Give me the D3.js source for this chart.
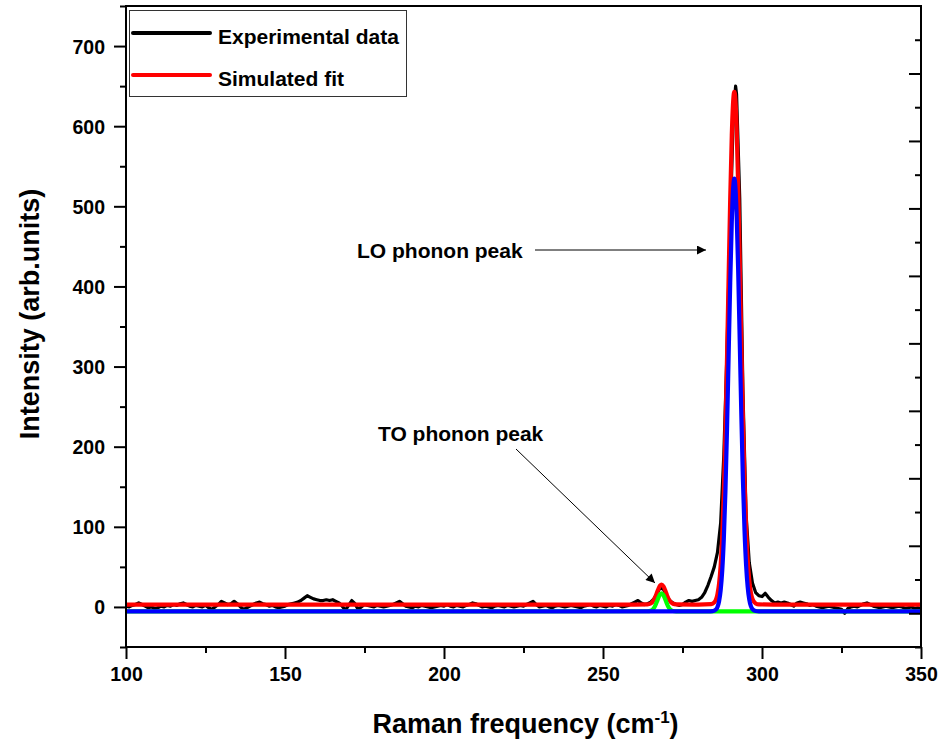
<!DOCTYPE html>
<html><head><meta charset="utf-8">
<script src="https://cdn.jsdelivr.net/npm/d3@7"></script>
<style>
html,body{margin:0;padding:0;background:#fff;}
text{font-family:"Liberation Sans",Arial,Helvetica,sans-serif;font-weight:bold;}
</style></head>
<body><svg id="c" width="941" height="746"></svg>
<script>
// ---- data ----
const expX = [100,101,102,103,104,105,106,107,108,109,110,111,112,113,114,115,116,117,118,119,
120,121,122,123,124,125,126,127,128,129,130,131,132,133,134,135,136,137,138,139,
140,141,142,143,144,145,146,147,148,149,150,151,152,153,154,155,156,157,158,159,
160,161,162,163,164,165,166,167,168,169,170,171,172,173,174,175,176,177,178,179,
180,181,182,183,184,185,186,187,188,189,190,191,192,193,194,195,196,197,198,199,
200,201,202,203,204,205,206,207,208,209,210,211,212,213,214,215,216,217,218,219,
220,221,222,223,224,225,226,227,228,229,230,231,232,233,234,235,236,237,238,239,
240,241,242,243,244,245,246,247,248,249,250,251,252,253,254,255,256,257,258,259,
260,261,262,263,264,265,266,267,268,269,270,271,272,273,274,275,276,277,278,279,
280,281,282,283,284,285,286,287,288,289,290,291,291.7,292,293,294,295,296,297,298,299,
300,301,302,303,304,305,306,307,308,309,310,311,312,313,314,315,316,317,318,319,
320,321,322,323,324,325,326,327,328,329,330,331,332,333,334,335,336,337,338,339,
340,341,342,343,344,345,346,347,348,349,350];
const expY = [1,0,2,3,5,3,1,-1,0,-2,-1,1,0,2,1,3,2,4,5,3,
1,0,2,1,0,2,-1,-3,0,3,7,5,3,4,7,4,0,-3,-1,1,
3,5,6,4,3,1,2,0,-1,0,1,3,4,5,6,8,11,14,12,10,
9,8,8,9,8,9,7,5,1,-4,2,8,4,-3,0,3,2,1,0,2,
1,0,1,2,3,5,7,4,1,0,-1,1,0,2,1,0,-1,0,1,2,
1,3,1,0,2,1,0,2,3,5,4,2,0,1,0,-1,1,2,1,0,
2,1,0,1,2,1,3,5,7,3,0,1,2,0,-1,1,2,1,0,1,
2,1,0,-1,1,2,3,1,0,2,1,0,2,1,3,2,0,1,2,4,
6,8,5,3,4,6,10,17,24,22,14,8,5,3,2,3,6,8,7,8,
9,12,18,27,38,50,68,105,190,320,480,615,650,640,510,270,115,55,30,18,14,
13,17,12,8,5,6,5,6,5,3,1,5,6,5,4,2,3,1,0,-1,
0,1,0,-1,-2,-3,-8,-2,0,1,0,2,4,5,3,1,0,-1,0,1,
0,-1,0,1,0,-2,-1,0,-2,-1,-2];

const fitX = [100,260,264,265,266,266.5,267,267.5,268,268.4,269,269.5,270,270.5,271,272,273,280,
284,285,286,286.5,287,287.5,288,288.5,289,289.5,290,290.5,291,291.3,291.6,292,292.5,293,293.5,
294,294.5,295,295.5,296,296.5,297,298,299,305,350];
const fitY = [3,3,3.2,4.3,8.8,13,18.2,23.3,27,28,25.8,21.4,16,11.1,7.5,3.9,3.1,3,
3.4,5.6,16,29,52,90,145,219,311,411,509,589,635,643,635,601,527,432,330,
236,158,99,59,33,18,10,4.3,3.1,3,3];

const toX = [100,264,265,266,266.5,267,267.5,268,268.4,269,269.5,270,270.5,271,272,273,350];
const toY = [-5.5,-5.4,-4.8,-1.4,2.2,7.1,12.2,16,17,14.7,10.2,5,0.6,-2.5,-5,-5.5,-5.5];

const loX = [100,283,284.5,285.5,286,286.5,287,287.5,288,288.5,289,289.5,290,290.5,291,291.3,291.6,
292,292.5,293,293.5,294,294.5,295,295.5,296,296.5,297,298,299,350];
const loY = [-5.5,-5.5,-5.2,-3.3,0,7.1,20.9,45.6,85.8,144.6,222,312.6,404.4,480.7,526.5,534.5,526.5,
493,421.5,331.5,239.6,158.6,96,52.3,24.8,9.1,1,-2.8,-5.1,-5.5,-5.5];

const xTicks = [100,150,200,250,300,350];
const xMinorTicks = [125,175,225,275,325];
const yTicks = [0,100,200,300,400,500,600,700];
const yMinorTicks = [-50,50,150,250,350,450,550,650,750];
const rTicks = [0,100,200,300,400,500,600,700,800];
const rMinorTicks = [-50,50,150,250,350,450,550,650,750,850];

const legendItems = ["Experimental data","Simulated fit"];
const legendColors = ["#000000","#ff0000"];

// ---- layout ----
const L = 126, R = 921, T = 6, B = 647;
const svg = d3.select("#c");
const x = d3.scaleLinear().domain([100,350]).range([L,R]);
const y = d3.scaleLinear().domain([-50,750]).range([B,T]);
const yR = d3.scaleLinear().domain([-50,900]).range([B,T]);

svg.append("defs").append("clipPath").attr("id","clip")
  .append("rect").attr("x",L).attr("y",T).attr("width",R-L).attr("height",B-T);

const g = svg.append("g").attr("clip-path","url(#clip)");
const lineLin = d3.line().x((d)=>x(d[0])).y((d)=>y(d[1]));
const lineSm = d3.line().x((d)=>x(d[0])).y((d)=>y(d[1])).curve(d3.curveMonotoneX);

g.append("path").datum(d3.zip(expX,expY)).attr("d",lineLin)
  .attr("fill","none").attr("stroke","#000").attr("stroke-width",3.2).attr("stroke-linejoin","round");
g.append("path").datum(d3.zip(fitX,fitY)).attr("d",lineSm)
  .attr("fill","none").attr("stroke","#ff0000").attr("stroke-width",4.2).attr("stroke-linejoin","round");
g.append("path").datum(d3.zip(toX,toY)).attr("d",lineSm)
  .attr("fill","none").attr("stroke","#00ff00").attr("stroke-width",4.2).attr("stroke-linejoin","round");
g.append("path").datum(d3.zip(loX,loY)).attr("d",lineSm)
  .attr("fill","none").attr("stroke","#0000ff").attr("stroke-width",4.2).attr("stroke-linejoin","round");

// axes
function styleAxis(sel){
  sel.select(".domain").remove();
  sel.selectAll("line").attr("stroke","#000").attr("stroke-width",2);
  sel.selectAll("text").attr("fill","#000").style("font-size","19.5px").style("font-weight","bold");
}
const ax = svg.append("g").attr("transform",`translate(0,${B})`)
  .call(d3.axisBottom(x).tickValues(xTicks).tickSize(12).tickPadding(8).tickFormat(d3.format("d")));
styleAxis(ax);
const axm = svg.append("g").attr("transform",`translate(0,${B})`)
  .call(d3.axisBottom(x).tickValues(xMinorTicks).tickSize(6).tickFormat(""));
styleAxis(axm);
const ay = svg.append("g").attr("transform",`translate(${L},0)`)
  .call(d3.axisLeft(y).tickValues(yTicks).tickSize(12).tickPadding(9).tickFormat(d3.format("d")));
styleAxis(ay);
ay.selectAll("text").attr("dy","0.36em");
const aym = svg.append("g").attr("transform",`translate(${L},0)`)
  .call(d3.axisLeft(y).tickValues(yMinorTicks).tickSize(6).tickFormat(""));
styleAxis(aym);
const ar = svg.append("g").attr("transform",`translate(${R},0)`)
  .call(d3.axisLeft(yR).tickValues(rTicks).tickSize(12).tickFormat(""));
styleAxis(ar);
const arm = svg.append("g").attr("transform",`translate(${R},0)`)
  .call(d3.axisLeft(yR).tickValues(rMinorTicks).tickSize(6).tickFormat(""));
styleAxis(arm);

svg.append("rect").attr("x",L).attr("y",T).attr("width",R-L).attr("height",B-T)
  .attr("fill","none").attr("stroke","#000").attr("stroke-width",2);

// axis titles
const xt = svg.append("text").attr("x",(L+R)/2 + 2).attr("y",733).attr("text-anchor","middle")
  .style("font-size","27px");
xt.append("tspan").text("Raman frequency (cm");
xt.append("tspan").text("-1").attr("dy","-10").style("font-size","17px");
xt.append("tspan").text(")").attr("dy","10");

svg.append("text").attr("transform","translate(39,314) rotate(-90)").attr("text-anchor","middle")
  .style("font-size","27px").text("Intensity (arb.units)");

// legend
const lg = svg.append("g");
lg.append("rect").attr("x",129.5).attr("y",10.5).attr("width",277).attr("height",86)
  .attr("fill","#fff").attr("stroke","#333").attr("stroke-width",1);
legendItems.forEach((t,i)=>{
  const yy = 33 + i*42;
  lg.append("line").attr("x1",133).attr("x2",210).attr("y1",yy).attr("y2",yy)
    .attr("stroke",legendColors[i]).attr("stroke-width",4).attr("stroke-linecap","round");
  lg.append("text").attr("x",218).attr("y",yy+11).style("font-size","21px").text(t);
});

// annotations
const defs = svg.select("defs");
defs.append("marker").attr("id","ah").attr("viewBox","0 0 10 10").attr("refX",10).attr("refY",5)
  .attr("markerWidth",16).attr("markerHeight",9).attr("markerUnits","userSpaceOnUse").attr("orient","auto")
  .append("path").attr("d","M0,0 L10,5 L0,10 Z").attr("fill","#000");
svg.append("text").attr("x",357).attr("y",258).style("font-size","21px").text("LO phonon peak");
svg.append("line").attr("x1",535).attr("y1",250).attr("x2",706).attr("y2",250)
  .attr("stroke","#000").attr("stroke-width",1).attr("marker-end","url(#ah)");
svg.append("text").attr("x",378).attr("y",441).style("font-size","21px").text("TO phonon peak");
svg.append("line").attr("x1",516).attr("y1",449).attr("x2",655).attr("y2",583)
  .attr("stroke","#000").attr("stroke-width",1).attr("marker-end","url(#ah)");
</script></body></html>
